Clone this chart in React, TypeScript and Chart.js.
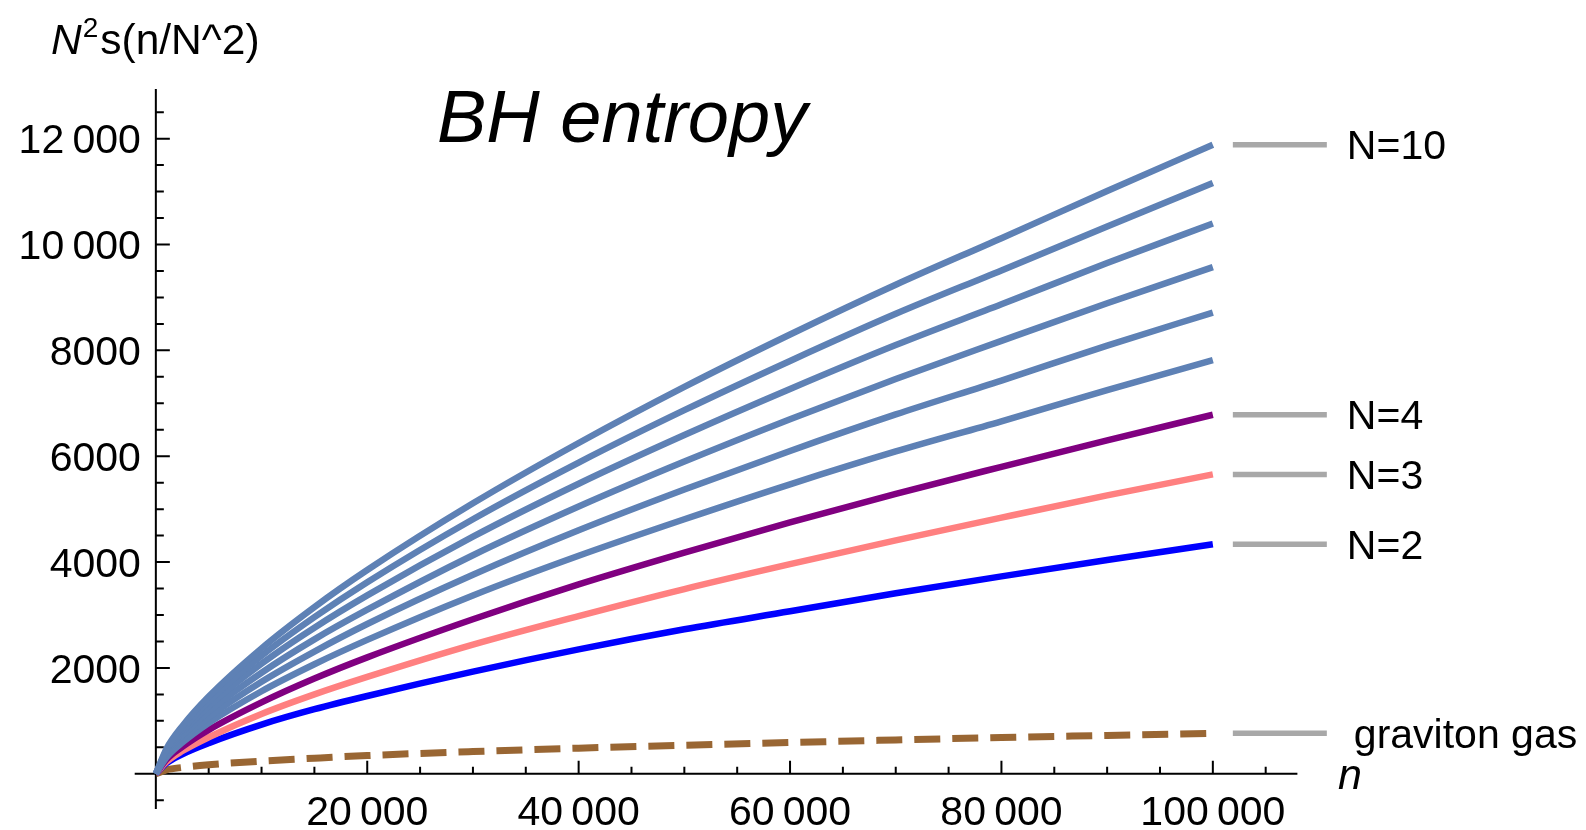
import React, { useEffect, useRef } from "react";
import { Chart, registerables } from "chart.js";

Chart.register(...registerables);

// ---- data ----
const nValues = [0, 1000, 2500, 5000, 10000, 15000, 20000, 30000, 40000, 50000, 60000, 70000, 80000, 90000, 100000];

const entropyN10 = [0, 470, 900, 1460, 2370, 3150, 3850, 5110, 6250, 7310, 8300, 9240, 10120, 11010, 11886];
const entropyN9 = [0, 440, 840, 1370, 2230, 2960, 3620, 4810, 5880, 6870, 7800, 8690, 9510, 10340, 11160];
const entropyN8 = [0, 410, 790, 1280, 2080, 2760, 3370, 4480, 5480, 6400, 7270, 8100, 8870, 9650, 10396];
const entropyN7 = [0, 380, 720, 1180, 1910, 2540, 3100, 4130, 5050, 5900, 6700, 7460, 8180, 8890, 9574];
const entropyN6 = [0, 350, 660, 1070, 1740, 2310, 2830, 3760, 4600, 5370, 6100, 6790, 7430, 8090, 8714];
const entropyN5 = [0, 310, 590, 960, 1560, 2070, 2530, 3370, 4120, 4810, 5470, 6090, 6660, 7250, 7816];
const entropyN4 = [0, 270, 510, 830, 1350, 1800, 2200, 2920, 3580, 4180, 4750, 5290, 5800, 6300, 6784];
const entropyN3 = [0, 225, 430, 690, 1130, 1500, 1830, 2440, 2980, 3490, 3960, 4410, 4840, 5260, 5656];
const entropyN2 = [0, 200, 370, 580, 930, 1220, 1470, 1930, 2350, 2730, 3070, 3410, 3730, 4040, 4338];
const gravitonGas = [0, 75, 120, 170, 240, 295, 345, 420, 485, 540, 590, 640, 685, 725, 765];

const seriesNames = ["N=10", "N=9", "N=8", "N=7", "N=6", "N=5", "N=4", "N=3", "N=2", "graviton gas"];
const seriesValues = [entropyN10, entropyN9, entropyN8, entropyN7, entropyN6, entropyN5, entropyN4, entropyN3, entropyN2, gravitonGas];
const seriesColors = ["#5E81B5", "#5E81B5", "#5E81B5", "#5E81B5", "#5E81B5", "#5E81B5", "#800080", "#FF8080", "#0000FF", "#996633"];
const labelledSeries = ["N=10", "N=4", "N=3", "N=2", "graviton gas"];

const xTickValues = [20000, 40000, 60000, 80000, 100000];
const xTickLabels = ["20\u2009000", "40\u2009000", "60\u2009000", "80\u2009000", "100\u2009000"];
const yTickValues = [2000, 4000, 6000, 8000, 10000, 12000];
const yTickLabels = ["2000", "4000", "6000", "8000", "10\u2009000", "12\u2009000"];

const titleText = "BH entropy";
const xAxisTitle = "n";

const FONT = '"Liberation Sans", Arial, sans-serif';

const axesPlugin = {
  id: "mmaAxes",
  beforeDatasetsDraw(chart: any) {
    const { ctx, chartArea, scales } = chart;
    const xs = scales.x;
    const ys = scales.y;
    const x0 = xs.getPixelForValue(0);
    const y0 = ys.getPixelForValue(0);
    ctx.save();
    ctx.strokeStyle = "#000";
    ctx.lineWidth = 2;
    ctx.beginPath();
    ctx.moveTo(chartArea.left, y0);
    ctx.lineTo(chartArea.right, y0);
    ctx.moveTo(x0, chartArea.top);
    ctx.lineTo(x0, chartArea.bottom);
    ctx.stroke();
    ctx.beginPath();
    for (let v = 5000; v <= xs.max; v += 5000) {
      const px = xs.getPixelForValue(v);
      const len = v % 20000 === 0 ? 13 : 7;
      ctx.moveTo(px, y0);
      ctx.lineTo(px, y0 - len);
    }
    for (let v = -500; v <= ys.max; v += 500) {
      if (v === 0 || v < ys.min) continue;
      const py = ys.getPixelForValue(v);
      const len = v % 2000 === 0 ? 14 : 8;
      ctx.moveTo(x0, py);
      ctx.lineTo(x0 + len, py);
    }
    ctx.stroke();
    ctx.restore();
  },
  afterDatasetsDraw(chart: any) {
    const { ctx, scales } = chart;
    const xs = scales.x;
    const ys = scales.y;
    const x0 = xs.getPixelForValue(0);
    const y0 = ys.getPixelForValue(0);
    ctx.save();
    ctx.fillStyle = "#000";
    const fs = 41;
    ctx.font = `${fs}px ${FONT}`;
    ctx.textBaseline = "alphabetic";
    ctx.textAlign = "center";
    xTickValues.forEach((v, i) => {
      ctx.fillText(xTickLabels[i], xs.getPixelForValue(v), y0 + 51);
    });
    ctx.textAlign = "right";
    yTickValues.forEach((v, i) => {
      ctx.fillText(yTickLabels[i], x0 - 15, ys.getPixelForValue(v) + fs * 0.358);
    });
    const xEnd = xs.getPixelForValue(nValues[nValues.length - 1]);
    ctx.textAlign = "left";
    ctx.font = `41px ${FONT}`;
    seriesNames.forEach((name, i) => {
      if (!labelledSeries.includes(name)) return;
      const vals = seriesValues[i];
      const py = ys.getPixelForValue(vals[vals.length - 1]);
      ctx.strokeStyle = "#A8A8A8";
      ctx.lineWidth = 5.5;
      ctx.beginPath();
      ctx.moveTo(xEnd + 20, py);
      ctx.lineTo(xEnd + 114, py);
      ctx.stroke();
      const tx = name === "graviton gas" ? xEnd + 141 : xEnd + 134;
      ctx.fillText(name, tx, py + 41 * 0.358);
    });
    ctx.font = `italic 74px ${FONT}`;
    ctx.fillText(titleText, 437, 142);
    ctx.font = `italic 43px ${FONT}`;
    ctx.fillText(xAxisTitle, 1338, 789);
    ctx.font = `italic 42.5px ${FONT}`;
    ctx.fillText("N", 51, 54);
    const w = ctx.measureText("N").width;
    ctx.font = `28px ${FONT}`;
    ctx.fillText("2", 51 + w + 1, 37);
    const w2 = ctx.measureText("2").width;
    ctx.font = `42.5px ${FONT}`;
    ctx.fillText("s(n/N^2)", 51 + w + w2 + 3, 54);
    ctx.restore();
  },
};

export default function App() {
  const ref = useRef<HTMLCanvasElement>(null);
  useEffect(() => {
    document.body.style.margin = "0";
    const canvas = ref.current;
    if (!canvas) return;
    const datasets = seriesNames.map((name, i) => ({
      label: name,
      data: nValues.map((n, k) => ({ x: n, y: seriesValues[i][k] })),
      borderColor: seriesColors[i],
      backgroundColor: seriesColors[i],
      borderWidth: name === "graviton gas" ? 7 : 6.5,
      borderDash: name === "graviton gas" ? [26, 12] : [],
      borderCapStyle: "butt" as const,
      pointRadius: 0,
      fill: false,
      cubicInterpolationMode: "monotone" as const,
    }));
    const chart = new Chart(canvas, {
      type: "line",
      data: { datasets },
      options: {
        animation: false,
        responsive: false,
        maintainAspectRatio: false,
        layout: { padding: { left: 134.7, right: 288.6, top: 88.9, bottom: 21 } },
        plugins: { legend: { display: false }, tooltip: { enabled: false } },
        scales: {
          x: { type: "linear", min: -2000, max: 108000, display: false },
          y: { type: "linear", min: -665, max: 12940, display: false },
        },
      },
      plugins: [axesPlugin],
    });
    return () => chart.destroy();
  }, []);
  return (
    <div style={{ width: 1586, height: 830, background: "#fff" }}>
      <canvas ref={ref} width={1586} height={830} style={{ display: "block" }} />
    </div>
  );
}
